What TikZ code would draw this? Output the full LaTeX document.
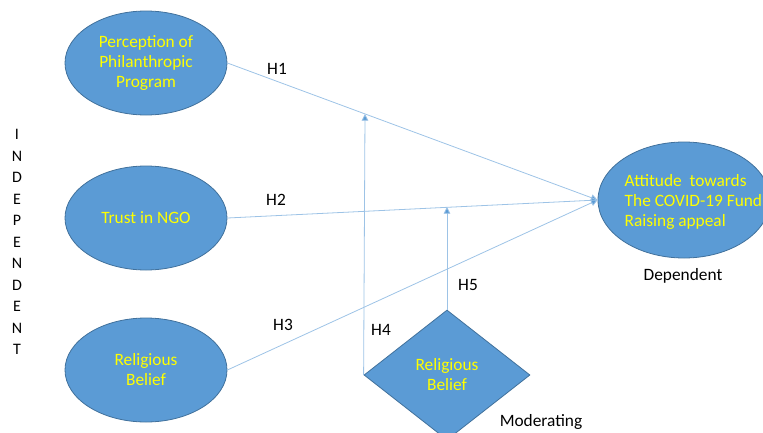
\documentclass[tikz,border=0pt]{standalone}
\usepackage{fontspec}
\setmainfont{Carlito}
\usetikzlibrary{shapes.geometric,arrows.meta}
\definecolor{fillblue}{HTML}{5B9BD5}
\definecolor{edgeblue}{HTML}{41719C}
\definecolor{lineblue}{HTML}{9DC3E6}
\definecolor{txtyellow}{HTML}{FFFF00}
\tikzset{
  construct/.style={ellipse, fill=fillblue, draw=edgeblue, line width=0.6pt, text=txtyellow, font=\fontsize{13}{15}\selectfont, align=center, inner sep=0pt, minimum width=121.5pt, minimum height=78pt},
  modbox/.style={diamond, fill=fillblue, draw=edgeblue, line width=0.6pt, text=txtyellow, font=\fontsize{13}{15}\selectfont, align=center, inner sep=0pt},
  link/.style={draw=lineblue, line width=0.6pt, -{Triangle[length=5pt,width=5pt,fill=fillblue]}},
  hlabel/.style={font=\fontsize{13}{15}\selectfont, text=black},
}
\begin{document}
\begin{tikzpicture}[x=0.75pt,y=-0.75pt]
\useasboundingbox (0,0) rectangle (763,432);
\clip (0,0) rectangle (763,432);
% independent constructs
\node[construct] (e1) at (146,63) {Perception of\\Philanthropic\\Program};
\node[construct] (e2) at (146,218) {Trust in NGO};
\node[construct] (e3) at (146,370) {Religious\\Belief};
% dependent
\node[ellipse, fill=fillblue, draw=edgeblue, line width=0.6pt, minimum width=129pt, minimum height=87pt] (dep) at (684,200) {};
\node[font=\fontsize{13}{15}\selectfont, text=txtyellow, align=left, anchor=west] (deptext) at (620,202) {Attitude\ \ towards\\The COVID-19 Fund\\Raising appeal};
% moderator
\node[modbox, minimum width=124.5pt, minimum height=97.5pt] (mod) at (447,375) {Religious\\Belief};
% junction points
\coordinate (s1) at (e1.east);
\coordinate (s2) at (e2.east);
\coordinate (s3) at (e3.east);
\coordinate (t) at (dep.west);
\coordinate (j1) at (365,114);
\coordinate (j2) at (447,207);
% main paths
\draw[link] (s1) -- (t);
\draw[link] (s2) -- (t);
\draw[link] (s3) -- (t);
% moderating paths
\draw[link] (mod.west) -- (j1);
\draw[link] (mod.north) -- (j2);
% labels
\node[hlabel] (h1) at (277,69) {H1};
\node[hlabel] (h2) at (276,200) {H2};
\node[hlabel] (h3) at (283,325) {H3};
\node[hlabel] (h4) at (381,330) {H4};
\node[hlabel] (h5) at (468,285) {H5};
\node[hlabel] (dl) at (683,276) {Dependent};
\node[hlabel] (ml) at (541,422) {Moderating};
\node[hlabel, align=center, font=\fontsize{12}{16.1}\selectfont] (ind) at (17,242) {I\\N\\D\\E\\P\\E\\N\\D\\E\\N\\T};
\end{tikzpicture}
\end{document}
